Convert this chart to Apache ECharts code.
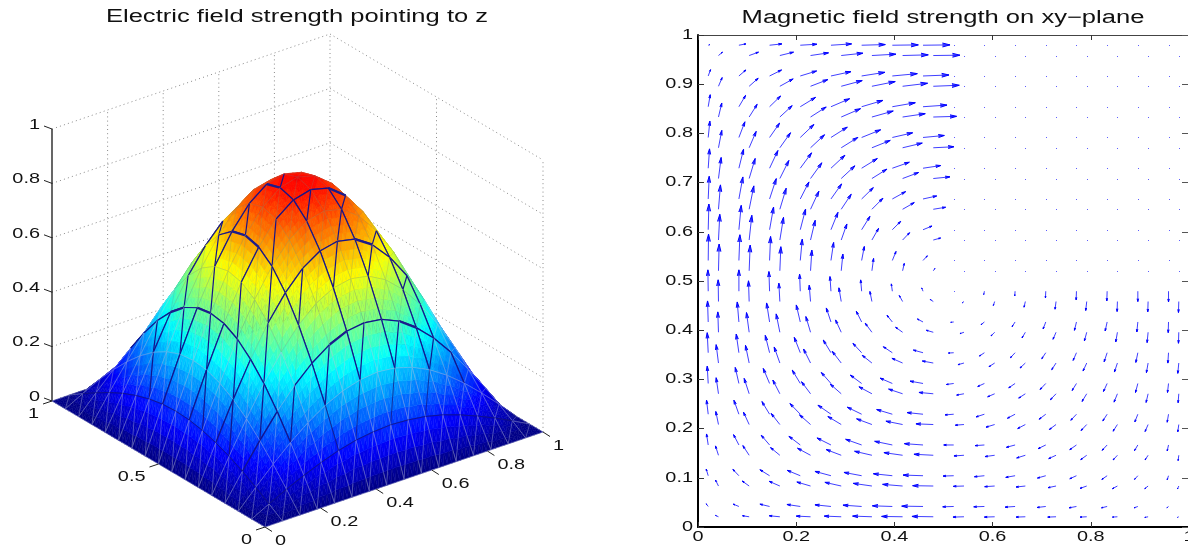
<!DOCTYPE html>
<html>
<head>
<meta charset="utf-8">
<title>Electric and magnetic field</title>
<script src="https://cdn.jsdelivr.net/npm/echarts@6/dist/echarts.min.js"></script>
<style>
html, body { margin: 0; padding: 0; background: #fff; }
#chart { width: 1188px; height: 546px; }
</style>
</head>
<body>
<div id="chart"></div>
<script>
// left plot: z values, one row per x grid line
var meshX = [0, .0625, .125, .1875, .25, .3125, .375, .4375, .5, .5625, .625, .6875, .75, .8125, .875, .9375, 1];
var meshY = [0, .0625, .125, .1875, .25, .3125, .375, .4375, .5, .5625, .625, .6875, .75, .8125, .875, .9375, 1];
var fieldZ = [
  [0, 0, 0, 0, 0, 0, 0, 0, 0, 0, 0, 0, 0, 0, 0, 0, 0],
  [0, .034, .066, .096, .122, .143, .159, .169, .172, .169, .159, .143, .122, .096, .066, .034, 0],
  [0, .066, .129, .187, .238, .280, .311, .331, .337, .331, .311, .280, .238, .187, .129, .066, 0],
  [0, .095, .187, .272, .346, .406, .452, .480, .489, .480, .452, .406, .346, .272, .187, .095, 0],
  [0, .121, .238, .346, .440, .517, .575, .610, .622, .610, .575, .517, .440, .346, .238, .121, 0],
  [0, .143, .280, .406, .517, .607, .675, .717, .731, .717, .675, .607, .517, .406, .280, .143, 0],
  [0, .159, .311, .452, .575, .675, .751, .798, .813, .798, .751, .675, .575, .452, .311, .159, 0],
  [0, .168, .330, .480, .610, .717, .798, .847, .863, .847, .798, .717, .610, .480, .330, .168, 0],
  [0, .172, .337, .489, .622, .731, .813, .863, .880, .863, .813, .731, .622, .489, .337, .172, 0],
  [0, .168, .330, .480, .610, .717, .798, .847, .863, .847, .798, .717, .610, .480, .330, .168, 0],
  [0, .159, .311, .452, .575, .675, .751, .798, .813, .798, .751, .675, .575, .452, .311, .159, 0],
  [0, .143, .280, .406, .517, .607, .675, .717, .731, .717, .675, .607, .517, .406, .280, .143, 0],
  [0, .121, .238, .346, .440, .517, .575, .610, .622, .610, .575, .517, .440, .346, .238, .121, 0],
  [0, .095, .187, .272, .346, .406, .452, .480, .489, .480, .452, .406, .346, .272, .187, .095, 0],
  [0, .066, .129, .187, .238, .280, .311, .331, .337, .331, .311, .280, .238, .187, .129, .066, 0],
  [0, .034, .066, .096, .122, .143, .159, .169, .172, .169, .159, .143, .122, .096, .066, .034, 0],
  [0, 0, 0, 0, 0, 0, 0, 0, 0, 0, 0, 0, 0, 0, 0, 0, 0]
];
// mesh edges that show up dark in the picture, as paths of [i, j] grid indices
var darkPaths = [
  [[10,7],[9,7],[8,7],[7,7],[6,7]],
  [[10,7],[9,6],[8,5],[7,4]],
  [[9,7],[9,6],[9,5],[9,4],[9,3],[9,2]],
  [[8,7],[7,6],[7,5],[7,4],[7,3],[7,2]],
  [[7,7],[7,6]],
  [[4,5],[5,5],[6,5],[7,5],[8,5],[9,5],[10,5],[11,5],[12,5]],
  [[10,5],[9,4]],
  [[10,5],[11,6],[11,5],[11,4],[11,3],[11,2]],
  [[12,5],[11,4]],
  [[12,5],[12,4],[12,3],[11,2]],
  [[4,3],[5,3],[6,3],[7,3],[8,3],[9,3],[10,3],[11,3],[12,3],[13,3],[13,2]],
  [[6,5],[5,4],[5,3],[5,2]],
  [[6,3],[5,2]],
  [[8,3],[7,2]],
  [[10,3],[9,2]],
  [[8,9],[7,8],[7,7],[6,7],[5,6],[5,5],[5,4]],
  [[7,9],[7,8]],
  [[7,9],[6,9],[5,9],[4,9],[3,8]],
  [[6,9],[5,8]],
  [[5,10],[5,9],[5,8],[5,7],[5,6]],
  [[5,7],[4,7],[3,6]],
  [[6,11],[5,10],[4,9]],
  [[6,11],[5,11],[4,11],[3,10]],
  [[5,6],[4,5],[3,4]],
  [[3,14],[3,13],[3,12],[3,11],[3,10],[3,9],[3,8],[3,7],[3,6],[3,5],[3,4],[3,3],[3,2]],
  [[3,9],[2,9],[1,9]],
  [[3,10],[2,9]],
  [[3,11],[2,11],[1,10]],
  [[3,12],[2,11]],
  [[3,7],[2,7],[1,7]],
  [[3,8],[2,7],[1,6]],
  [[3,5],[2,5],[1,5]],
  [[3,6],[2,5],[1,4]],
  [[3,3],[2,3],[1,3]],
  [[3,4],[2,3]],
  [[4,3],[3,2]]
];
var thickPaths = [
  [[5,9],[5,8],[5,7]],
  [[7,9],[7,8]],
  [[9,5],[10,5]],
  [[3,9],[3,8]],
  [[10,3],[11,3]],
  [[6,3],[7,3]],
  [[3,11],[3,10]],
  [[9,7],[10,7]]
];
var faintPaths = [
  [[1,1],[1,2],[1,3],[1,4],[1,5],[1,6],[1,7],[1,8],[1,9],[1,10],[1,11],[1,12],[1,13],[1,14],[1,15]],
  [[1,1],[2,1],[3,1],[4,1],[5,1],[6,1],[7,1],[8,1],[9,1],[10,1],[11,1],[12,1],[13,1],[14,1],[15,1]],
  [[9,2],[8,1]],
  [[7,2],[6,1]],
  [[5,2],[5,1]],
  [[11,2],[10,1]],
  [[1,10],[1,9]]
];
var zTicks = [0, .2, .4, .6, .8, 1];
var zTickLabels = ["0", "0.2", "0.4", "0.6", "0.8", "1"];
var xTicks = [0, .2, .4, .6, .8, 1];
var xTickLabels = ["0", "0.2", "0.4", "0.6", "0.8", "1"];
var yTicks = [0, .5, 1];
var yTickLabels = ["0", "0.5", "1"];

// right plot: arrow tails and components, rows from the top row of the picture down
var planeXTicks = [0, .2, .4, .6, .8, 1];
var planeXLabels = ["0", "0.2", "0.4", "0.6", "0.8", "1"];
var planeYTicks = [0, .1, .2, .3, .4, .5, .6, .7, .8, .9, 1];
var planeYLabels = ["0", "0.1", "0.2", "0.3", "0.4", "0.5", "0.6", "0.7", "0.8", "0.9", "1"];
var tailsOdd = [.0208, .0833, .1458, .2083, .2708, .3333, .3958, .4583, .5208, .5833, .6458, .7083, .7708, .8333, .8958, .9583];
var tailsEven = [.0417, .1042, .1667, .2292, .2917, .3542, .4167, .4792, .5417, .6042, .6667, .7292, .7917, .8542, .9167, .9792];
var upperU = [
  [5, 21, 37, 50, 62, 71, 78, 81, 0, 0, 0, 0, 0, 0, 0, 0],
  [7, 21, 36, 49, 60, 70, 75, 78, 0, 0, 0, 0, 0, 0, 0, 0],
  [6, 20, 33, 46, 56, 64, 69, 72, 0, 0, 0, 0, 0, 0, 0, 0],
  [5, 18, 30, 41, 49, 57, 61, 64, 0, 0, 0, 0, 0, 0, 0, 0],
  [4, 14, 25, 34, 42, 47, 51, 53, 0, 0, 0, 0, 0, 0, 0, 0],
  [3, 12, 20, 26, 32, 35, 40, 41, 0, 0, 0, 0, 0, 0, 0, 0],
  [2, 7, 12, 16, 21, 25, 25, 27, 0, 0, 0, 0, 0, 0, 0, 0],
  [1, 3, 3, 6, 8, 8, 11, 13, 0, 0, 0, 0, 0, 0, 0, 0],
  [-1, 0, -2, -2, -3, -3, -3, -4, 0, -2, -1, -1, -1, -1, 0, 0],
  [-2, -5, -9, -12, -14, -16, -16, -17, -9, -10, -9, -8, -6, -6, -3, -1],
  [-3, -8, -13, -18, -23, -26, -27, -29, -16, -15, -14, -12, -10, -9, -6, -2],
  [-3, -11, -19, -24, -29, -34, -37, -39, -22, -20, -19, -17, -13, -11, -7, -3],
  [-5, -15, -23, -31, -39, -43, -47, -48, -26, -25, -23, -20, -17, -13, -9, -4],
  [-5, -16, -25, -34, -42, -48, -53, -56, -30, -28, -26, -23, -20, -15, -10, -4],
  [-6, -18, -29, -39, -48, -53, -57, -60, -32, -30, -28, -25, -20, -16, -10, -4],
  [-6, -17, -29, -40, -48, -56, -60, -64, -33, -32, -30, -26, -22, -17, -11, -5]
];
var upperV = [
  [2, 4, 4, 3, 4, 2, 1, 1, 0, 0, 0, 0, 0, 0, 0, 0],
  [19, 18, 18, 15, 13, 11, 7, 3, 0, 0, 0, 0, 0, 0, 0, 0],
  [36, 34, 32, 28, 24, 19, 12, 5, 0, 0, 0, 0, 0, 0, 0, 0],
  [49, 47, 43, 39, 31, 23, 14, 6, 0, 0, 0, 0, 0, 0, 0, 0],
  [58, 57, 53, 46, 39, 29, 18, 8, 0, 0, 0, 0, 0, 0, 0, 0],
  [68, 66, 61, 51, 45, 34, 22, 9, 0, 0, 0, 0, 0, 0, 0, 0],
  [77, 73, 68, 62, 52, 40, 25, 11, 0, 0, 0, 0, 0, 0, 0, 0],
  [79, 77, 72, 64, 54, 42, 27, 14, 0, 0, 0, 0, 0, 0, 0, 0],
  [64, 64, 59, 51, 44, 34, 22, 10, 0, -10, -14, -20, -26, -29, -31, -32],
  [63, 60, 57, 51, 42, 32, 20, 9, -1, -8, -14, -21, -25, -27, -30, -32],
  [60, 56, 52, 46, 38, 28, 18, 8, -1, -10, -15, -18, -23, -27, -29, -31],
  [52, 48, 45, 40, 33, 25, 16, 7, -3, -9, -13, -18, -21, -24, -27, -27],
  [42, 42, 38, 32, 27, 21, 14, 5, -2, -8, -12, -15, -18, -20, -23, -24],
  [33, 31, 29, 26, 21, 17, 11, 4, 0, -2, -7, -11, -14, -16, -17, -18],
  [20, 19, 18, 16, 13, 10, 6, 2, -1, -3, -5, -7, -9, -11, -11, -12],
  [8, 7, 7, 6, 5, 4, 2, 1, -1, -1, -2, -3, -4, -4, -4, -4]
];
var lowerU = [
  [12, 28, 41, 54, 65, 72, 77, 80, 0, 0, 0, 0, 0, 0, 0, 0],
  [11, 27, 40, 52, 63, 70, 75, 78, 0, 0, 0, 0, 0, 0, 0, 0],
  [10, 24, 37, 47, 58, 64, 68, 70, 0, 0, 0, 0, 0, 0, 0, 0],
  [10, 21, 32, 42, 50, 55, 59, 62, 0, 0, 0, 0, 0, 0, 0, 0],
  [8, 18, 27, 34, 41, 45, 48, 50, 0, 0, 0, 0, 0, 0, 0, 0],
  [6, 14, 19, 25, 30, 33, 35, 37, 0, 0, 0, 0, 0, 0, 0, 0],
  [4, 8, 11, 14, 17, 20, 21, 22, 0, 0, 0, 0, 0, 0, 0, 0],
  [2, 3, 3, 4, 5, 5, 5, 5, 0, 0, 0, 0, 0, 0, 0, 0],
  [-1, -2, -3, -4, -7, -6, -10, -9, -5, -4, -4, -3, -3, -1, -1, -1],
  [-2, -8, -11, -14, -17, -20, -21, -21, -12, -11, -10, -9, -7, -5, -3, -1],
  [-7, -11, -17, -21, -27, -29, -32, -33, -18, -17, -16, -13, -11, -9, -5, -3],
  [-7, -15, -21, -27, -33, -39, -42, -43, -22, -21, -20, -17, -14, -10, -6, -2],
  [-8, -17, -26, -33, -40, -46, -50, -52, -26, -26, -23, -20, -17, -13, -9, -3],
  [-9, -19, -28, -39, -45, -52, -56, -58, -30, -29, -26, -22, -18, -13, -9, -2],
  [-9, -21, -32, -41, -49, -56, -60, -62, -32, -30, -28, -24, -20, -15, -10, -4],
  [-9, -20, -32, -43, -51, -58, -63, -64, -33, -31, -28, -25, -20, -15, -10, -4]
];
var lowerV = [
  [10, 10, 10, 8, 7, 4, 2, 1, 0, 0, 0, 0, 0, 0, 0, 0],
  [26, 24, 22, 20, 17, 14, 9, 3, 0, 0, 0, 0, 0, 0, 0, 0],
  [42, 38, 34, 30, 25, 18, 10, 2, 0, 0, 0, 0, 0, 0, 0, 0],
  [52, 49, 45, 39, 31, 22, 14, 3, 0, 0, 0, 0, 0, 0, 0, 0],
  [63, 60, 54, 47, 38, 28, 18, 5, 0, 0, 0, 0, 0, 0, 0, 0],
  [73, 70, 63, 54, 45, 33, 20, 6, 0, 0, 0, 0, 0, 0, 0, 0],
  [77, 74, 68, 59, 48, 35, 22, 6, 0, 0, 0, 0, 0, 0, 0, 0],
  [80, 77, 72, 62, 50, 37, 22, 7, 0, 0, 0, 0, 0, 0, 0, 0],
  [65, 62, 55, 49, 41, 30, 18, 6, -4, -12, -17, -23, -27, -30, -31, -33],
  [61, 59, 55, 47, 37, 27, 15, 6, -4, -11, -17, -21, -26, -29, -31, -33],
  [55, 53, 48, 42, 35, 23, 14, 6, -5, -11, -15, -20, -24, -27, -29, -31],
  [48, 46, 41, 36, 29, 21, 14, 4, -4, -9, -13, -18, -23, -25, -26, -27],
  [39, 37, 33, 29, 24, 17, 10, 2, -2, -8, -12, -15, -18, -20, -21, -22],
  [28, 29, 23, 21, 17, 12, 8, 3, -2, -4, -8, -10, -13, -14, -14, -16],
  [18, 15, 14, 12, 11, 8, 5, 1, -1, -2, -3, -5, -7, -8, -8, -9],
  [4, 3, 3, 2, 2, 2, 1, 1, -1, -1, -1, -1, -1, -1, -2, -2]
];
var arrowScale = 1 / 1473;

// the 3D view of the left plot, flattened onto a hidden 2D cartesian
function project(x, y, z) {
  return [265 + 278 * x - 213 * y, 19 + 95 * x + 126 * y + 272 * z];
}

function jet(t) {
  var level = Math.min(63, Math.floor(Math.max(0, t) * 64));
  var v = (level + .5) / 64;
  function ch(c) {
    return Math.round(255 * Math.max(0, Math.min(1, 1.5 - Math.abs(4 * v - c))));
  }
  return "rgb(" + ch(3) + "," + ch(2) + "," + ch(1) + ")";
}

function edgeKey(a, b) {
  var ka = a[0] + "," + a[1], kb = b[0] + "," + b[1];
  return ka < kb ? ka + "|" + kb : kb + "|" + ka;
}
var edgeStyles = {};
function markPaths(paths, style) {
  paths.forEach(function (p) {
    for (var k = 0; k < p.length - 1; k++) edgeStyles[edgeKey(p[k], p[k + 1])] = style;
  });
}
markPaths(faintPaths, { stroke: "rgba(20,20,120,.8)", lineWidth: .9 });
markPaths(darkPaths, { stroke: "#14148c", lineWidth: 1.2 });
markPaths(thickPaths, { stroke: "#1c1c8c", lineWidth: 2.2 });

// mesh lines read lighter on the blue foot of the surface than near the top
var lowMeshStyle = { stroke: "rgba(185,190,215,.52)", lineWidth: .7 };
var highMeshStyle = { stroke: "rgba(120,130,120,.32)", lineWidth: .7 };

function vertex(i, j) {
  return { i: i, j: j, z: fieldZ[i][j], p: project(meshX[i], meshY[j], fieldZ[i][j]) };
}

function renderCell(params, api) {
  var i = api.value(0), j = api.value(1);
  var a = vertex(i, j), b = vertex(i + 1, j), c = vertex(i + 1, j + 1), d = vertex(i, j + 1);
  var children = [];
  [[a, b, c], [a, d, c]].forEach(function (t) {
    var n = 4;
    function pt(u, v) {
      var w = n - u - v;
      return {
        z: (t[0].z * w + t[1].z * u + t[2].z * v) / n,
        c: api.coord([
          (t[0].p[0] * w + t[1].p[0] * u + t[2].p[0] * v) / n,
          (t[0].p[1] * w + t[1].p[1] * u + t[2].p[1] * v) / n
        ])
      };
    }
    function tri(p, q, r) {
      var col = jet((p.z + q.z + r.z) / 3);
      children.push({
        type: "polygon",
        shape: { points: [p.c, q.c, r.c] },
        style: { fill: col, stroke: col, lineWidth: .5 }
      });
    }
    for (var u = 0; u < n; u++) {
      for (var v = 0; v < n - u; v++) {
        tri(pt(u, v), pt(u + 1, v), pt(u, v + 1));
        if (u + v < n - 1) tri(pt(u + 1, v), pt(u, v + 1), pt(u + 1, v + 1));
      }
    }
  });
  [[a, b], [a, d], [a, c], [b, c], [d, c]].forEach(function (e) {
    var p0 = e[0], p1 = e[1];
    var st = edgeStyles[edgeKey([p0.i, p0.j], [p1.i, p1.j])];
    if (!st) st = (p0.z + p1.z) / 2 < .42 ? lowMeshStyle : highMeshStyle;
    var c0 = api.coord(p0.p), c1 = api.coord(p1.p);
    children.push({
      type: "line",
      shape: { x1: c0[0], y1: c0[1], x2: c1[0], y2: c1[1] },
      style: { stroke: st.stroke, lineWidth: st.lineWidth, fill: null }
    });
  });
  return { type: "group", children: children };
}

var cells = [];
for (var ci = 15; ci >= 0; ci--) {
  for (var cj = 15; cj >= 0; cj--) cells.push([ci, cj]);
}

// dotted box lines behind the surface
var wallLines = [];
zTicks.forEach(function (z) {
  wallLines.push([0, 1, z, 1, 1, z]);
  wallLines.push([1, 1, z, 1, 0, z]);
});
xTicks.slice(1).forEach(function (x) { wallLines.push([x, 1, 0, x, 1, 1]); });
yTicks.slice(0, 2).forEach(function (y) { wallLines.push([1, y, 0, 1, y, 1]); });

function renderWall(params, api) {
  var c0 = api.coord(project(api.value(0), api.value(1), api.value(2)));
  var c1 = api.coord(project(api.value(3), api.value(4), api.value(5)));
  return {
    type: "line",
    shape: { x1: c0[0], y1: c0[1], x2: c1[0], y2: c1[1] },
    style: { stroke: "#8a8a8a", lineWidth: 1, lineDash: [1, 3.2], fill: null }
  };
}

// stretched Helvetica look of the original export
function stretchedText(text, x, y, align, size, stretch) {
  return {
    type: "text",
    x: x,
    y: y,
    scaleX: stretch,
    style: {
      text: text,
      font: size + 'px "Liberation Sans"',
      fill: "#111",
      textAlign: align,
      textVerticalAlign: "middle"
    }
  };
}

// tick marks and labels of the 3D box
var boxTicks = [];
zTicks.forEach(function (v, k) { boxTicks.push([0, 1, v, zTickLabels[k], "z"]); });
xTicks.forEach(function (v, k) { boxTicks.push([v, 0, 0, xTickLabels[k], "x"]); });
yTicks.forEach(function (v, k) { boxTicks.push([0, v, 0, yTickLabels[k], "y"]); });
var tickLook = {
  z: { dx: -8, dy: -3, lx: -12, ly: -4, align: "right" },
  x: { dx: 7, dy: 4.5, lx: 10, ly: 14, align: "left" },
  y: { dx: -9, dy: 3, lx: -13, ly: 13, align: "right" }
};
function renderBoxTick(params, api) {
  var item = boxTicks[params.dataIndex];
  var look = tickLook[item[4]];
  var c = api.coord(project(item[0], item[1], item[2]));
  return {
    type: "group",
    children: [
      {
        type: "line",
        shape: { x1: c[0], y1: c[1], x2: c[0] + look.dx, y2: c[1] + look.dy },
        style: { stroke: "#222", lineWidth: 1, fill: null }
      },
      stretchedText(item[3], c[0] + look.lx, c[1] + look.ly, look.align, 14, 1.42)
    ]
  };
}

function renderZAxis(params, api) {
  var c0 = api.coord(project(0, 1, 0)), c1 = api.coord(project(0, 1, 1));
  return {
    type: "line",
    shape: { x1: c0[0], y1: c0[1], x2: c1[0], y2: c1[1] },
    style: { stroke: "#000", lineWidth: 1.2, fill: null }
  };
}

// right plot arrows
var arrows = [];
upperU.forEach(function (row, r) {
  row.forEach(function (u, c) {
    arrows.push([tailsOdd[c], tailsEven[15 - r], u * arrowScale, upperV[r][c] * arrowScale]);
    arrows.push([tailsEven[c], tailsOdd[15 - r], lowerU[r][c] * arrowScale, lowerV[r][c] * arrowScale]);
  });
});

function renderArrow(params, api) {
  var x = api.value(0), y = api.value(1), u = api.value(2), v = api.value(3);
  var t = api.coord([x, y]);
  if (u === 0 && v === 0) {
    return {
      type: "rect",
      shape: { x: Math.round(t[0]), y: Math.round(t[1]), width: 1, height: 1 },
      style: { fill: "rgba(40,40,255,.75)" }
    };
  }
  var h = api.coord([x + u, y + v]);
  var dx = h[0] - t[0], dy = h[1] - t[1];
  // head a little slimmer than the MATLAB quiver default, as exported
  var a = .28, b = .26;
  var b1 = [h[0] - a * (dx + b * dy), h[1] - a * (dy - b * dx)];
  var b2 = [h[0] - a * (dx - b * dy), h[1] - a * (dy + b * dx)];
  return {
    type: "group",
    children: [
      {
        type: "line",
        shape: { x1: t[0], y1: t[1], x2: h[0], y2: h[1] },
        style: { stroke: "#2a2aff", lineWidth: .9, fill: null }
      },
      {
        type: "polyline",
        shape: { points: [b1, h, b2] },
        style: { stroke: "#0000ff", lineWidth: 1, fill: "rgba(0,0,255,.6)" }
      }
    ]
  };
}

function renderPlaneXLabel(params, api) {
  var c = api.coord([api.value(0), 0]);
  return stretchedText(planeXLabels[params.dataIndex], c[0], c[1] + 10, "center", 14, 1.42);
}
function renderPlaneYLabel(params, api) {
  var c = api.coord([0, api.value(0)]);
  return stretchedText(planeYLabels[params.dataIndex], c[0] - 5, c[1], "right", 14, 1.42);
}

var chart = echarts.init(document.getElementById("chart"), null, { renderer: "canvas" });
chart.setOption({
  animation: false,
  backgroundColor: "#fff",
  graphic: [
    { type: "text", x: 297, y: 17, scaleX: 1.42, style: { text: "Electric field strength pointing to z", font: '18px "Liberation Sans"', fill: "#111", textAlign: "center", textVerticalAlign: "middle" } },
    { type: "text", x: 943, y: 18, scaleX: 1.42, style: { text: "Magnetic field strength on xy\u2212plane", font: '18px "Liberation Sans"', fill: "#111", textAlign: "center", textVerticalAlign: "middle" } }
  ],
  grid: [
    { left: 0, top: 0, width: 594, height: 546, outerBoundsMode: "none" },
    { left: 698, top: 35, width: 491, height: 492, outerBoundsMode: "none" }
  ],
  xAxis: [
    { gridIndex: 0, type: "value", min: 0, max: 594, show: false },
    {
      gridIndex: 1, type: "value", position: "bottom", min: 0, max: 1, interval: .2,
      axisLine: { onZero: false, lineStyle: { color: "#000", width: 2 } },
      axisTick: { inside: true, length: 5, lineStyle: { color: "#333" } },
      axisLabel: { show: false },
      splitLine: { show: false }
    },
    {
      gridIndex: 1, type: "value", position: "top", min: 0, max: 1, interval: .2,
      axisLine: { onZero: false, lineStyle: { color: "#444", width: 1 } },
      axisTick: { inside: true, length: 5, lineStyle: { color: "#333" } },
      axisLabel: { show: false },
      splitLine: { show: false }
    }
  ],
  yAxis: [
    { gridIndex: 0, type: "value", min: 0, max: 546, show: false },
    {
      gridIndex: 1, type: "value", position: "left", min: 0, max: 1, interval: .1,
      axisLine: { onZero: false, lineStyle: { color: "#000", width: 2 } },
      axisTick: { inside: true, length: 6, lineStyle: { color: "#333" } },
      axisLabel: { show: false },
      splitLine: { show: false }
    },
    {
      gridIndex: 1, type: "value", position: "right", min: 0, max: 1, interval: .1,
      axisLine: { onZero: false, lineStyle: { color: "#444", width: 1 } },
      axisTick: { inside: true, length: 7, lineStyle: { color: "#555" } },
      axisLabel: { show: false },
      splitLine: { show: false }
    }
  ],
  series: [
    {
      type: "custom", name: "box grid", xAxisIndex: 0, yAxisIndex: 0, silent: true, clip: false,
      data: wallLines, renderItem: renderWall
    },
    {
      type: "custom", name: "z axis", xAxisIndex: 0, yAxisIndex: 0, silent: true, clip: false,
      data: [[0]], renderItem: renderZAxis
    },
    {
      type: "custom", name: "Electric field", xAxisIndex: 0, yAxisIndex: 0, silent: true, clip: false,
      progressive: 0, data: cells, renderItem: renderCell
    },
    {
      type: "custom", name: "box ticks", xAxisIndex: 0, yAxisIndex: 0, silent: true, clip: false,
      data: boxTicks.map(function (t) { return [t[0], t[1], t[2]]; }), renderItem: renderBoxTick
    },
    {
      type: "custom", name: "Magnetic field", xAxisIndex: 1, yAxisIndex: 1, silent: true,
      progressive: 0, clip: false, data: arrows, renderItem: renderArrow
    },
    {
      type: "custom", name: "x labels", xAxisIndex: 1, yAxisIndex: 1, silent: true, clip: false,
      data: planeXTicks.map(function (v) { return [v]; }), renderItem: renderPlaneXLabel
    },
    {
      type: "custom", name: "y labels", xAxisIndex: 1, yAxisIndex: 1, silent: true, clip: false,
      data: planeYTicks.map(function (v) { return [v]; }), renderItem: renderPlaneYLabel
    }
  ]
});
</script>
</body>
</html>
